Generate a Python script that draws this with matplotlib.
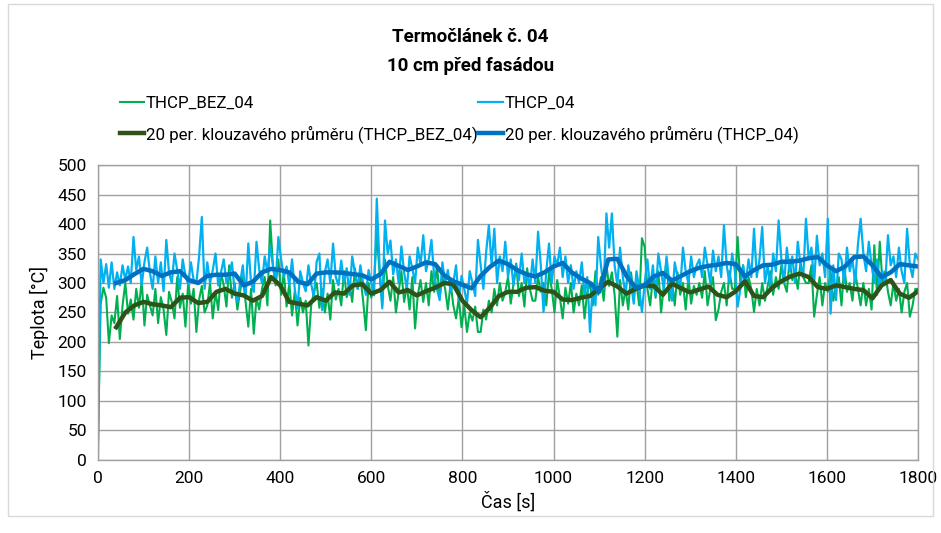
import numpy as np
import matplotlib
matplotlib.use("Agg")
import matplotlib.pyplot as plt
from matplotlib.patches import Rectangle

plt.rcParams['font.family'] = ['Roboto', 'DejaVu Sans']

# raw measurements, one value every 6 s (0 ... 1800 s)
t_raw = np.arange(0, 1801, 6)

thcp_bez_04 = [
    30, 265, 292, 275, 198, 245, 232, 278, 205, 262, 300, 248, 272, 238, 290, 258, 305, 228, 280, 262,
    245, 290, 232, 276, 255, 212, 285, 268, 240, 310, 258, 282, 226, 300, 265, 290, 217, 272, 295, 250,
    262, 300, 240, 285, 254, 318, 296, 260, 330, 275, 300, 255, 286, 310, 268, 226, 290, 214, 275, 255,
    290, 310, 262, 406, 330, 296, 340, 280, 318, 260, 300, 245, 286, 228, 275, 250, 270, 194, 262, 285,
    300, 258, 290, 250, 282, 238, 305, 272, 290, 262, 320, 276, 300, 268, 325, 290, 310, 270, 220, 300,
    275, 300, 385, 318, 262, 340, 296, 270, 310, 250, 285, 320, 268, 296, 255, 310, 223, 280, 305, 268,
    300, 262, 320, 285, 330, 275, 310, 290, 255, 300, 262, 240, 275, 225, 262, 217, 250, 236, 260, 217,
    217, 255, 238, 270, 250, 290, 262, 300, 270, 285, 310, 265, 298, 333, 278, 300, 260, 325, 290, 270,
    270, 310, 285, 300, 262, 318, 290, 250, 305, 275, 240, 292, 265, 300, 250, 282, 262, 296, 240, 285,
    300, 262, 320, 280, 310, 270, 330, 295, 318, 280, 209, 305, 262, 290, 255, 318, 280, 300, 262, 376,
    361, 290, 262, 310, 275, 320, 250, 296, 340, 270, 305, 262, 318, 280, 300, 255, 310, 265, 295, 280,
    300, 275, 320, 262, 290, 310, 237, 255, 285, 300, 262, 320, 290, 290, 378, 300, 330, 276, 310, 290,
    251, 290, 262, 300, 270, 295, 320, 280, 310, 290, 330, 300, 285, 340, 305, 320, 290, 335, 310, 300,
    300, 330, 243, 280, 310, 262, 300, 285, 320, 270, 295, 310, 262, 330, 285, 300, 270, 318, 290, 262,
    300, 262, 290, 255, 364, 280, 370, 300, 320, 285, 262, 300, 270, 290, 250, 285, 300, 243, 262, 290,
    290,
]

thcp_04 = [
    15, 340, 300, 332, 292, 335, 290, 318, 296, 330, 305, 328, 300, 378, 322, 345, 296, 335, 360, 318,
    290, 345, 300, 335, 286, 373, 318, 300, 350, 322, 290, 340, 312, 298, 335, 305, 300, 345, 412, 290,
    335, 300, 322, 350, 296, 318, 340, 300, 312, 335, 286, 268, 300, 330, 275, 367, 300, 285, 370, 322,
    300, 345, 318, 362, 330, 300, 378, 340, 310, 328, 296, 340, 290, 257, 320, 300, 286, 330, 298, 276,
    336, 350, 254, 318, 340, 300, 367, 310, 296, 338, 300, 325, 280, 345, 318, 290, 330, 300, 280, 322,
    300, 279, 443, 330, 257, 406, 350, 372, 315, 340, 300, 362, 318, 290, 345, 325, 300, 360, 330, 381,
    320, 340, 373, 310, 290, 271, 335, 300, 322, 285, 300, 330, 270, 312, 290, 265, 320, 300, 278, 373,
    330, 290, 352, 398, 330, 392, 300, 345, 320, 370, 310, 340, 296, 330, 305, 350, 300, 315, 290, 340,
    300, 387, 330, 251, 320, 367, 300, 345, 330, 360, 310, 345, 300, 330, 290, 320, 300, 335, 280, 310,
    217, 300, 262, 378, 330, 290, 418, 360, 418, 330, 296, 360, 310, 280, 330, 300, 265, 320, 290, 251,
    300, 340, 290, 330, 280, 350, 320, 290, 345, 300, 270, 335, 310, 290, 360, 320, 300, 345, 310, 330,
    340, 310, 360, 330, 300, 355, 320, 345, 310, 398, 330, 300, 350, 320, 260, 290, 330, 300, 340, 310,
    392, 310, 340, 395, 300, 330, 290, 350, 320, 406, 340, 300, 360, 320, 345, 300, 370, 330, 310, 409,
    340, 360, 300, 380, 330, 350, 310, 409, 248, 330, 271, 350, 340, 300, 360, 320, 340, 300, 365, 409,
    350, 320, 370, 330, 300, 340, 290, 320, 300, 381, 330, 345, 310, 360, 320, 300, 392, 330, 310, 350,
    340,
]

# 20-period moving averages, every 20 s from 40 s
t_ma = np.arange(40, 1801, 20)

ma_thcp_bez_04 = [
    225, 250, 262, 268, 264, 262, 259, 275, 276, 266, 268, 285, 290, 282, 279, 270, 278, 310,
    296, 268, 265, 262, 276, 270, 284, 282, 296, 298, 282, 288, 302, 284, 288, 279, 286, 292,
    300, 298, 270, 254, 242, 258, 278, 285, 285, 292, 293, 287, 285, 272, 271, 275, 278, 291,
    302, 294, 282, 290, 296, 295, 280, 299, 291, 284, 289, 294, 280, 276, 286, 303, 278, 276,
    292, 303, 311, 316, 310, 293, 290, 296, 293, 290, 288, 274, 296, 305, 282, 275, 286,
]

ma_thcp_04 = [
    300, 305, 315, 324, 320, 312, 318, 320, 305, 300, 312, 314, 314, 316, 296, 302, 318, 324,
    322, 318, 302, 298, 316, 318, 318, 317, 315, 313, 306, 315, 336, 329, 322, 328, 335, 332,
    313, 303, 297, 291, 312, 327, 338, 332, 322, 315, 311, 318, 328, 334, 318, 308, 300, 285,
    340, 341, 312, 292, 296, 311, 317, 304, 312, 320, 326, 329, 331, 334, 332, 311, 322, 330,
    331, 336, 336, 338, 342, 344, 330, 320, 328, 344, 345, 330, 310, 318, 332, 330, 328,
]

fig = plt.figure(figsize=(9.41, 5.33), dpi=100)
ax = fig.add_axes([0.1041, 0.137, 0.8715, 0.5534])

l1, = ax.plot(t_raw, thcp_bez_04, color='#00B050', lw=1.5)
l2, = ax.plot(t_raw, thcp_04, color='#00B0F0', lw=1.6)
l3, = ax.plot(t_ma, ma_thcp_bez_04, color='#2E5318', lw=3.2)
l4, = ax.plot(t_ma, ma_thcp_04, color='#0070C0', lw=3.2)

ax.set_xlim(0, 1800)
ax.set_ylim(0, 500)
ax.set_xticks(np.arange(0, 1801, 200))
ax.set_yticks(np.arange(0, 501, 50))
ax.tick_params(length=0, labelsize=12.5, colors='#000000', pad=8)
ax.grid(True, color='#a0a0a0', lw=1)
ax.set_axisbelow(True)
for s in ax.spines.values():
    s.set_color('#a0a0a0')
    s.set_linewidth(1)

ax.set_xlabel('Čas [s]', fontsize=13, labelpad=4)
ax.set_ylabel('Teplota [°C]', fontsize=13, labelpad=6)

fig.text(0.5, 0.903, 'Termočlánek č. 04\n10 cm před fasádou', ha='center', va='center',
         fontsize=13.5, fontweight='bold', linespacing=1.8)

fig.legend([l1, l3, l2, l4],
           ['THCP_BEZ_04', '20 per. klouzavého průměru (THCP_BEZ_04)',
            'THCP_04', '20 per. klouzavého průměru (THCP_04)'],
           ncol=2, loc='center left', bbox_to_anchor=(0.118, 0.776),
           frameon=False, fontsize=12.2, handlelength=1.45, handletextpad=0.1,
           columnspacing=0.05, labelspacing=0.82, borderpad=0)

# light chart-area border
fig.patches.append(Rectangle((8 / 941, 1 - 516 / 533), 925 / 941, 512 / 533,
                             transform=fig.transFigure, fill=False,
                             edgecolor='#d9d9d9', lw=1))

fig.savefig('out.png', dpi=100)
